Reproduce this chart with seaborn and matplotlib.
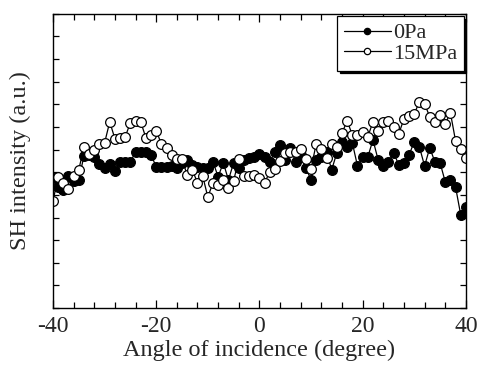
import numpy as np
import matplotlib
matplotlib.use("Agg")
import matplotlib.pyplot as plt
import seaborn as sns
from matplotlib.ticker import MultipleLocator

# angle of incidence, one point per degree
angle = list(range(-40, 41))

# SH intensity (a.u.)
sh_0pa = [5.75, 5.35, 5.22, 5.84, 5.62, 5.66, 6.73, 6.77, 6.68, 6.37,
          6.19, 6.37, 6.06, 6.46, 6.46, 6.46, 6.90, 6.90, 6.90, 6.77,
          6.24, 6.24, 6.24, 6.28, 6.19, 6.42, 6.55, 6.33, 6.24, 6.19,
          6.19, 6.46, 5.80, 6.42, 5.66, 6.42, 6.19, 6.55, 6.64, 6.68,
          6.81, 6.68, 6.46, 6.90, 7.21, 6.55, 7.08, 6.46, 6.77, 6.19,
          5.66, 6.55, 6.68, 6.90, 6.11, 6.86, 7.35, 7.12, 7.30, 6.28,
          6.68, 6.68, 7.43, 6.55, 6.28, 6.46, 6.86, 6.33, 6.42, 6.77,
          7.35, 7.12, 6.28, 7.08, 6.46, 6.42, 5.58, 5.66, 5.35, 4.12,
          4.47]

sh_15mpa = [4.73, 5.80, 5.53, 5.27, 5.84, 6.11, 7.12, 6.81, 6.99, 7.26,
            7.30, 8.23, 7.48, 7.52, 7.57, 8.19, 8.27, 8.23, 7.52, 7.65,
            7.83, 7.26, 7.08, 6.77, 6.59, 6.59, 5.88, 6.11, 5.53, 5.84,
            4.91, 5.53, 5.44, 5.66, 5.31, 5.62, 6.59, 5.84, 5.84, 5.88,
            5.75, 5.53, 6.02, 6.15, 6.50, 6.86, 6.90, 6.90, 7.04, 6.59,
            6.15, 7.26, 7.04, 6.64, 7.26, 7.12, 7.74, 8.27, 7.65, 7.65,
            7.79, 7.57, 8.23, 7.83, 8.23, 8.27, 8.01, 7.70, 8.36, 8.50,
            8.58, 9.12, 9.03, 8.45, 8.23, 8.54, 8.14, 8.63, 7.39, 7.04,
            6.64]

sns.set_style("ticks")
plt.rcParams["font.family"] = ["Liberation Serif", "DejaVu Serif"]
plt.rcParams["axes.unicode_minus"] = False

fig = plt.figure(figsize=(4.79, 3.65), dpi=100)
ax = fig.add_axes([0.1106, 0.156, 0.862, 0.806])

sns.lineplot(x=angle, y=sh_0pa, ax=ax, color="black", lw=0.9,
             marker="o", markersize=7, markerfacecolor="black",
             markeredgecolor="black", markeredgewidth=0.9, label="0Pa")
sns.lineplot(x=angle, y=sh_15mpa, ax=ax, color="black", lw=0.9,
             marker="o", markersize=7, markerfacecolor="white",
             markeredgecolor="black", markeredgewidth=0.9, label="15MPa")

ax.set_xlim(-40, 40)
ax.set_ylim(0, 13)
ax.xaxis.set_major_locator(MultipleLocator(20))
ax.xaxis.set_minor_locator(MultipleLocator(4))
ax.yaxis.set_major_locator(MultipleLocator(1))
ax.set_yticklabels([])
ax.tick_params(which="both", direction="in", top=True, right=True,
               color="black", width=0.9)
ax.tick_params(which="major", length=6, labelsize=17, pad=6)
ax.tick_params(which="minor", length=4)
ax.tick_params(axis="y", which="major", length=4)
for s in ax.spines.values():
    s.set_color("black")
    s.set_linewidth(1.0)

ax.set_xlabel("Angle of incidence (degree)", fontsize=17.5, labelpad=2)
ax.set_ylabel("SH intensity (a.u.)", fontsize=17.5, labelpad=10)

leg = ax.legend(loc="upper right", fontsize=16, frameon=True, fancybox=False,
                shadow={"color": "black", "alpha": 1}, handlelength=2.1,
                handletextpad=0.1, borderpad=0.3, labelspacing=0.0,
                markerscale=0.65, borderaxespad=0.1)
leg.get_frame().set_edgecolor("black")
leg.get_frame().set_linewidth(0.9)
leg.get_frame().set_alpha(1)

fig.savefig("out.png", dpi=100)
